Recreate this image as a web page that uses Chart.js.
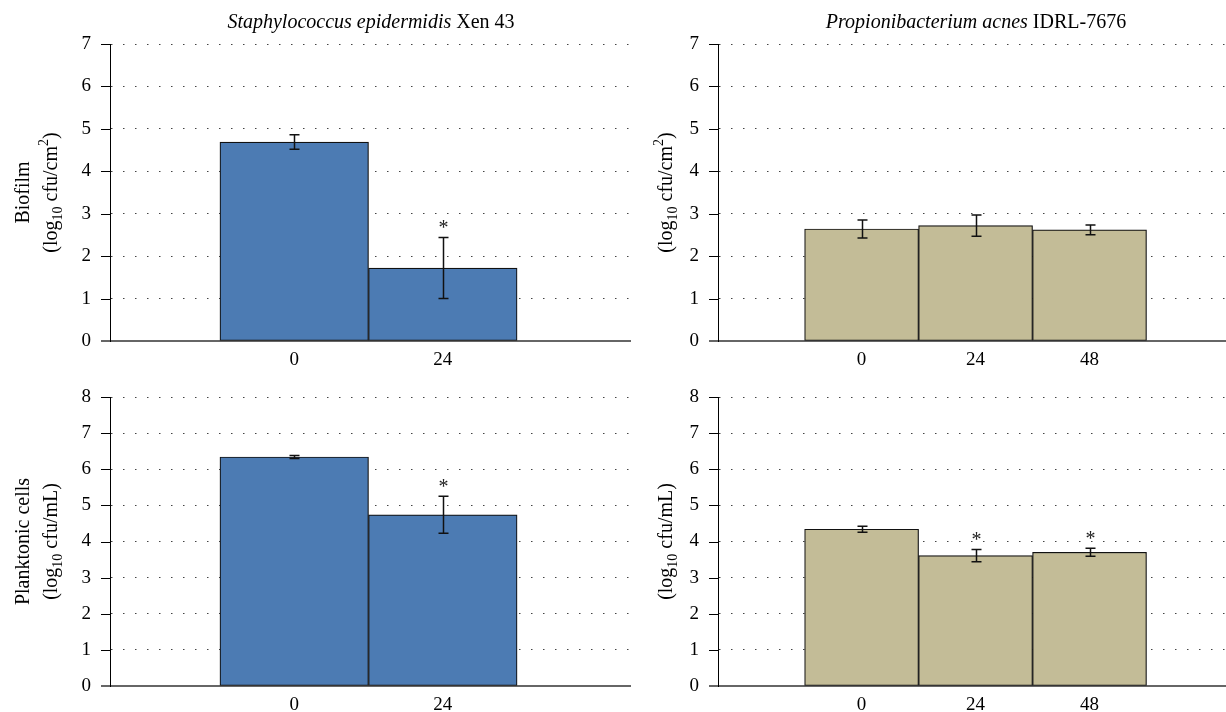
<!DOCTYPE html>
<html>
<head>
<meta charset="utf-8">
<script src="https://cdn.jsdelivr.net/npm/chart.js@4.4.1/dist/chart.umd.min.js"></script>
<style>
  html, body { margin: 0; padding: 0; background: #fff; overflow: hidden; }
  #page { position: relative; width: 1226px; height: 712px; overflow: hidden; background: #fff; }
  .panel { position: absolute; }
  .panel canvas { display: block; }
</style>
</head>
<body>
<div id="page">
  <div class="panel" style="left:0px;top:0px;"><canvas id="c1" width="640" height="370"></canvas></div>
  <div class="panel" style="left:620px;top:0px;"><canvas id="c2" width="620" height="370"></canvas></div>
  <div class="panel" style="left:0px;top:370px;"><canvas id="c3" width="640" height="342"></canvas></div>
  <div class="panel" style="left:620px;top:370px;"><canvas id="c4" width="620" height="342"></canvas></div>
</div>
<script>
// Sampling times (h)
const xenTimes = ['0', '24'];
const acnesTimes = ['0', '24', '48'];

// Biofilm counts, log10 cfu/cm2 (mean and SD)
const xenBiofilm = [4.69, 1.72];
const xenBiofilmSD = [0.17, 0.72];
const xenBiofilmSig = [false, true];
const acnesBiofilm = [2.64, 2.72, 2.62];
const acnesBiofilmSD = [0.21, 0.25, 0.115];
const acnesBiofilmSig = [false, false, false];

// Planktonic counts, log10 cfu/mL (mean and SD)
const xenPlanktonic = [6.34, 4.74];
const xenPlanktonicSD = [0.04, 0.51];
const xenPlanktonicSig = [false, true];
const acnesPlanktonic = [4.34, 3.61, 3.70];
const acnesPlanktonicSD = [0.085, 0.17, 0.11];
const acnesPlanktonicSig = [false, true, true];

// Y-axis ranges
const biofilmMax = 7;
const planktonicMax = 8;

const FAMILY = "'Liberation Serif', 'DejaVu Serif', serif";
const FS = 20;      // titles
const TICK_FS = 19; // tick labels
const BLUE = '#4c7bb3';
const TAN = '#c3bc97';

Chart.defaults.font.family = FAMILY;
Chart.defaults.font.size = TICK_FS;
Chart.defaults.color = '#000';

function drawRich(ctx, segs, size, cx, cy, rotate) {
  const fontFor = s => (s.italic ? 'italic ' : '') + ((s.sub || s.sup) ? Math.round(size * 0.72) : size) + 'px ' + FAMILY;
  const widths = segs.map(s => { ctx.font = fontFor(s); return ctx.measureText(s.t).width; });
  const total = widths.reduce((a, b) => a + b, 0);
  ctx.save();
  ctx.translate(cx, cy);
  if (rotate) ctx.rotate(-Math.PI / 2);
  ctx.textAlign = 'left';
  ctx.textBaseline = 'alphabetic';
  ctx.fillStyle = '#000';
  let x = -total / 2;
  const base = size * 0.33;
  segs.forEach((s, i) => {
    ctx.font = fontFor(s);
    const dy = s.sub ? size * 0.25 : (s.sup ? -size * 0.42 : 0);
    ctx.fillText(s.t, x, base + dy);
    x += widths[i];
  });
  ctx.restore();
}

// Panel decorations: title, y titles, y tick marks, error bars and significance marks
const decorations = {
  id: 'decorations',
  afterDraw(chart) {
    const o = chart.options.plugins.decorations;
    const ctx = chart.ctx;
    const area = chart.chartArea;
    const ys = chart.scales.y;
    const midY = (area.top + area.bottom) / 2;

    if (o.title) drawRich(ctx, o.title, FS, o.titleX, 21, false);
    o.yTitles.forEach(t => drawRich(ctx, t.segs, FS, t.x, midY, true));

    // short tick marks left of the y axis
    ctx.save();
    ys.ticks.forEach(t => {
      const zero = t.value === 0;
      const y = Math.round(ys.getPixelForValue(t.value)) + (zero ? 0 : 0.5);
      ctx.beginPath();
      ctx.strokeStyle = zero ? '#666' : '#000';
      ctx.lineWidth = zero ? 2 : 1;
      ctx.moveTo(area.left - 9, y);
      ctx.lineTo(area.left, y);
      ctx.stroke();
    });
    ctx.restore();

    // error bars and asterisks
    const meta = chart.getDatasetMeta(0);
    ctx.save();
    ctx.strokeStyle = '#111';
    ctx.fillStyle = '#222';
    ctx.lineWidth = 1.5;
    meta.data.forEach((bar, i) => {
      const v = o.values[i], e = o.sd[i];
      const x = Math.round(bar.x) + 0.5;
      const yt = ys.getPixelForValue(v + e);
      const yb = ys.getPixelForValue(v - e);
      ctx.beginPath();
      ctx.moveTo(x, yt); ctx.lineTo(x, yb);
      ctx.moveTo(x - 5, yt); ctx.lineTo(x + 5, yt);
      ctx.moveTo(x - 5, yb); ctx.lineTo(x + 5, yb);
      ctx.stroke();
      if (o.sig[i]) {
        ctx.font = FS + 'px ' + FAMILY;
        ctx.textAlign = 'center';
        ctx.textBaseline = 'alphabetic';
        ctx.fillText('*', x, yt - 3);
      }
    });
    ctx.restore();
  }
};

function makePanel(id, cfg) {
  const canvas = document.getElementById(id);
  const H = canvas.height;
  return new Chart(canvas, {
    type: 'bar',
    data: {
      datasets: [{
        data: cfg.values.map((v, i) => ({ x: i, y: v })),
        backgroundColor: cfg.color,
        borderColor: '#111',
        borderWidth: 1.2,
        borderSkipped: false,
        categoryPercentage: 1,
        barPercentage: 1
      }]
    },
    options: {
      responsive: false,
      animation: false,
      events: [],
      layout: { padding: { top: cfg.top, right: cfg.right, bottom: 0, left: 0 } },
      plugins: {
        legend: { display: false },
        tooltip: { enabled: false },
        title: { display: false },
        decorations: {
          title: cfg.title, titleX: cfg.titleX, yTitles: cfg.yTitles,
          values: cfg.values, sd: cfg.sd, sig: cfg.sig
        }
      },
      scales: {
        x: {
          type: 'linear',
          offset: false,
          min: cfg.xmin,
          max: cfg.xmax,
          afterBuildTicks: s => { s.ticks = cfg.labels.map((_, i) => ({ value: i })); },
          afterFit: s => { s.height = H - cfg.bottom; s.paddingLeft = 0; s.paddingRight = 0; },
          ticks: {
            autoSkip: false,
            maxRotation: 0,
            padding: 8,
            color: '#000',
            font: { size: TICK_FS },
            callback: v => cfg.labels[v] ?? ''
          },
          grid: { display: false, drawTicks: false },
          border: { display: true, color: '#666', width: 2 }
        },
        y: {
          min: 0,
          max: cfg.ymax,
          afterFit: s => { s.width = cfg.axisX; s.paddingTop = 0; s.paddingBottom = 0; },
          ticks: { stepSize: 1, padding: 19, color: '#000', font: { size: TICK_FS } },
          grid: { display: true, drawTicks: false, color: '#444', lineWidth: 1 },
          border: { display: true, color: '#000', width: 1, dash: [1.5, 10.5] }
        }
      }
    },
    plugins: [decorations]
  });
}

const unitsArea = [{ t: '(log' }, { t: '10', sub: true }, { t: ' cfu/cm' }, { t: '2', sup: true }, { t: ')' }];
const unitsVol = [{ t: '(log' }, { t: '10', sub: true }, { t: ' cfu/mL)' }];

makePanel('c1', {
  values: xenBiofilm, sd: xenBiofilmSD, sig: xenBiofilmSig, labels: xenTimes,
  color: BLUE, ymax: biofilmMax, axisX: 110, top: 44, bottom: 341, right: 10,
  xmin: -1.24, xmax: 2.26,
  title: [{ t: 'Staphylococcus epidermidis', italic: true }, { t: ' Xen 43' }], titleX: 371,
  yTitles: [{ segs: [{ t: 'Biofilm' }], x: 22 }, { segs: unitsArea, x: 50 }]
});

makePanel('c2', {
  values: acnesBiofilm, sd: acnesBiofilmSD, sig: acnesBiofilmSig, labels: acnesTimes,
  color: TAN, ymax: biofilmMax, axisX: 98, top: 44, bottom: 341, right: 8,
  xmin: -1.26, xmax: 3.25,
  title: [{ t: 'Propionibacterium acnes', italic: true }, { t: ' IDRL-7676' }], titleX: 356,
  yTitles: [{ segs: unitsArea, x: 45 }]
});

makePanel('c3', {
  values: xenPlanktonic, sd: xenPlanktonicSD, sig: xenPlanktonicSig, labels: xenTimes,
  color: BLUE, ymax: planktonicMax, axisX: 110, top: 27, bottom: 316, right: 10,
  xmin: -1.24, xmax: 2.26,
  title: null,
  yTitles: [{ segs: [{ t: 'Planktonic cells' }], x: 22 }, { segs: unitsVol, x: 50 }]
});

makePanel('c4', {
  values: acnesPlanktonic, sd: acnesPlanktonicSD, sig: acnesPlanktonicSig, labels: acnesTimes,
  color: TAN, ymax: planktonicMax, axisX: 98, top: 27, bottom: 316, right: 8,
  xmin: -1.26, xmax: 3.25,
  title: null,
  yTitles: [{ segs: unitsVol, x: 45 }]
});
</script>
</body>
</html>
